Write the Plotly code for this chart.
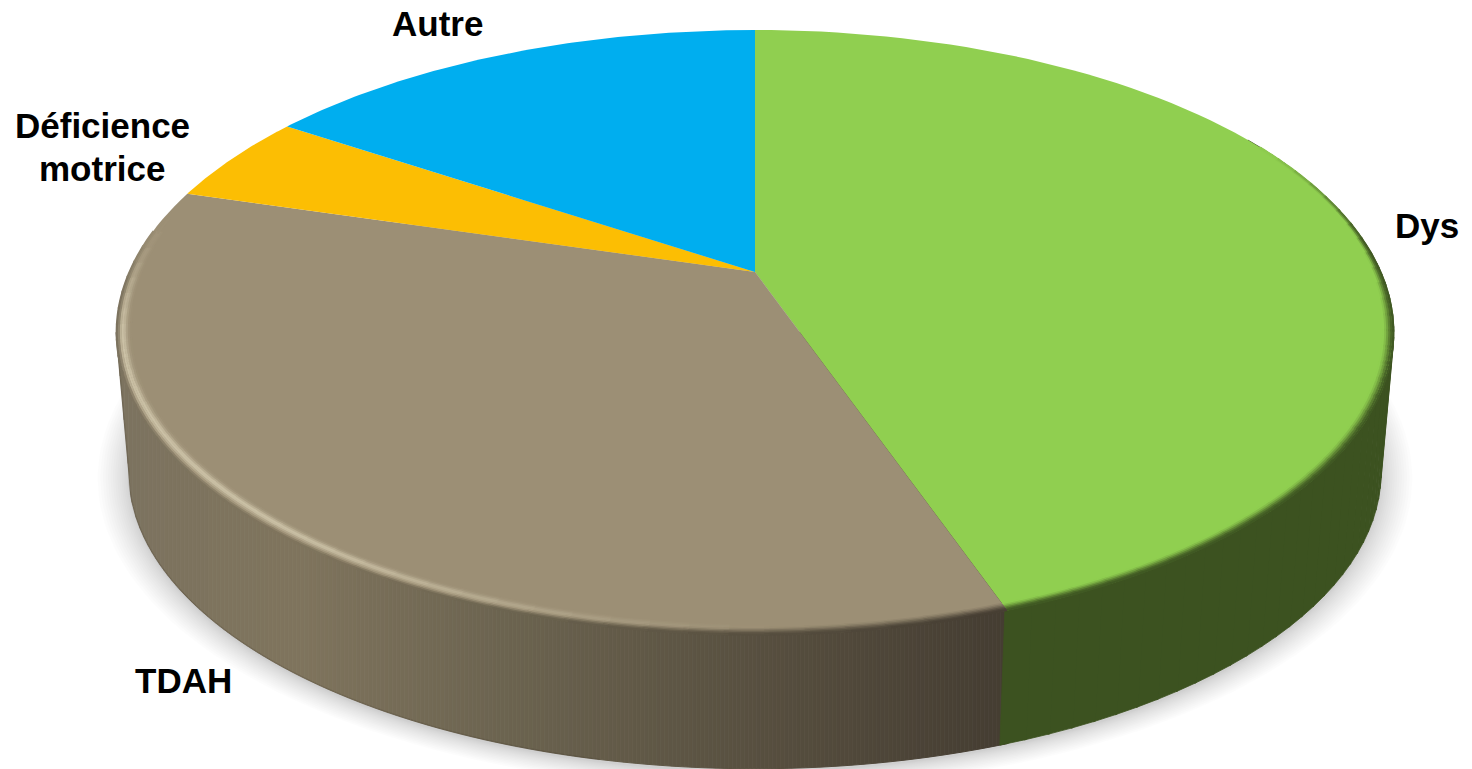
import numpy as np
import plotly.graph_objects as go

# ---- data ----
categories = ["Dys", "TDAH", "Déficience motrice", "Autre"]
values = [44.7, 34.9, 4.8, 15.6]
top_colors = ["#90cf50", "#9c8f75", "#fcbe03", "#00aeef"]
label_lines = [["Dys"], ["TDAH"], ["Déficience", "motrice"], ["Autre"]]
label_x = [1427, 183, 102, 437]
label_y = [225, 680, 125, 23]

# ---- drawing geometry (pixels of the page) ----
W, H = 1472, 769
CX, Y_TOP, Y_BOT = 755, 272, 413
A, B, K, S = 626.0, 290.4, 0.2, 0.98
WALL_GREEN = "#3c5220"
HILITE = "#cbc1a6"
x_stops = [120, 300, 500, 750, 1005]
wall_stops = [(0x7c, 0x73, 0x5f), (0x7f, 0x74, 0x5d), (0x6c, 0x64, 0x50), (0x58, 0x50, 0x40), (0x45, 0x3d, 0x32)]


def project(theta_deg, r=1.0, scale=1.0, y0=Y_TOP):
    t = np.radians(theta_deg)
    u, v = r * np.sin(t), r * np.cos(t)
    w = 1 + K * v
    return CX + scale * A * u / w, y0 - scale * B * v / w


def hex2rgb(h):
    return tuple(int(h[i:i + 2], 16) for i in (1, 3, 5))


def mix(a, b, t):
    return tuple(a[i] + (b[i] - a[i]) * t for i in range(3))


def css(c):
    return "rgb(%d,%d,%d)" % tuple(round(x) for x in c)


def sstep(a, b, x):
    t = np.clip((x - a) / (b - a), 0, 1)
    return t * t * (3 - 2 * t)


def wall_brown(x):
    return tuple(np.interp(x, x_stops, [s[i] for s in wall_stops]) for i in range(3))


fig = go.Figure()


def poly(xs, ys, color, line=0.0):
    fig.add_trace(go.Scatter(
        x=list(xs), y=list(ys), mode="lines", fill="toself", fillcolor=color,
        line=dict(color=color, width=line), hoverinfo="skip", showlegend=False))


def stroke(xs, ys, color, width):
    fig.add_trace(go.Scatter(
        x=list(xs), y=list(ys), mode="lines", line=dict(color=color, width=width, simplify=False),
        hoverinfo="skip", showlegend=False))


# cumulative slice angles, clockwise from twelve o'clock
total = sum(values)
edges = np.concatenate([[0], np.cumsum(values)]) * 360.0 / total
th_dys = (edges[0], edges[1])
th_tdah = (edges[1], edges[2])

# soft ground shadow
full = np.linspace(0, 360, 241)
for off in np.linspace(1.0, 0.0, 16):
    sc = S * (1.0 + 0.05 * off ** 1.3)
    xs, ys = project(full, scale=sc, y0=Y_BOT + 3)
    poly(xs, ys, "rgba(0,0,0,0.0105)")

# side wall: brown part, vertical bands shaded left to right
dense = np.linspace(th_tdah[0] - 8, 300, 1500)
xt, yt = project(dense)
xb, yb = project(dense, scale=S, y0=Y_BOT)
i_t, i_b = int(np.argmin(xt)), int(np.argmin(xb))
low_x = np.r_[xt[i_t], xb[i_b::-1]]
low_y = np.r_[yt[i_t], yb[i_b::-1]]
columns = np.arange(xt[i_t], project(th_tdah[0])[0] + 4, 4.0)
for x0, x1 in zip(columns[:-1], columns[1:]):
    xs = np.linspace(x0, x1, 4)
    ys = np.interp(xs, low_x, low_y)
    poly(np.r_[xs, x1, x0], np.r_[ys, yt[i_t], yt[i_t]], css(wall_brown((x0 + x1) / 2)), 1)

# side wall: dark green part, drawn as quads so the arcs may cross
grid = np.arange(60, th_dys[1] + 0.01, (th_dys[1] - 60) / 50)
for a0, a1 in zip(grid[:-1], grid[1:]):
    seg = np.array([a0, a1 + 0.2])
    x_t, y_t = project(seg)
    x_b, y_b = project(seg, scale=S, y0=Y_BOT)
    poly([x_t[0], x_t[1], x_b[1], x_b[0]], [y_t[0], y_t[1], y_b[1], y_b[0]], WALL_GREEN, 0.8)

# thin darker line along the wall's lower edge
keep = low_x < 600
stroke(low_x[keep], low_y[keep], "rgba(60,50,35,0.2)", 1.5)

# top face
for i, col in enumerate(top_colors):
    th = np.linspace(edges[i], edges[i + 1], 90)
    xs, ys = project(th)
    poly(np.r_[CX, xs], np.r_[Y_TOP, ys], col)

# bevel rim: concentric strokes near the edge
radii = np.arange(0.972, 0.9995, 0.003)
brown = hex2rgb(top_colors[1])
green = hex2rgb(top_colors[0])
hi = hex2rgb(HILITE)
step = 3.0

for r in radii:
    for a0 in np.arange(th_tdah[0], 290, step):
        a1 = min(a0 + step + 0.4, th_tdah[1])
        if a0 >= a1:
            continue
        mid = (a0 + a1) / 2
        v = np.cos(np.radians(mid))
        inten = sstep(282, 255, mid) * sstep(175, 225, mid)
        r0 = 0.985 + 0.005 * sstep(225, 262, mid)
        c = mix(brown, hi, inten * np.exp(-((r - r0) / 0.0062) ** 2))
        x_mid, _ = project(mid, r)
        dark = sstep(0.992 - 0.012 * sstep(215, 165, mid), 0.9995, r) * sstep(0.2, -0.1, v)
        c = mix(c, wall_brown(x_mid), dark)
        if np.linalg.norm(np.array(c) - np.array(brown)) < 1.5:
            continue
        xs, ys = project(np.linspace(a0, a1, 6), r)
        stroke(xs, ys, css(c), 2.2)

    for a0 in np.arange(50, th_dys[1], step):
        a1 = min(a0 + step + 0.4, th_dys[1])
        mid = (a0 + a1) / 2
        v = np.cos(np.radians(mid))
        dark = 0.95 * sstep(0.983 + 0.011 * sstep(-0.2, 0.3, v), 0.9995, r) * sstep(0.5, 0.05, v)
        if dark < 0.01:
            continue
        xs, ys = project(np.linspace(a0, a1, 6), r)
        stroke(xs, ys, css(mix(green, hex2rgb(WALL_GREEN), dark)), 2.2)

annotations = []
for lines, lx, ly in zip(label_lines, label_x, label_y):
    for k, text in enumerate(lines):
        annotations.append(dict(
            x=lx, y=ly + 43 * k, xref="x", yref="y", text=text, showarrow=False,
            xanchor="center", yanchor="middle",
            font=dict(family="Liberation Sans", size=35, color="#000000", weight=700)))

fig.update_layout(
    width=W, height=H, margin=dict(l=0, r=0, t=0, b=0),
    paper_bgcolor="#ffffff", plot_bgcolor="#ffffff", showlegend=False,
    xaxis=dict(range=[0, W], visible=False, fixedrange=True),
    yaxis=dict(range=[H, 0], visible=False, fixedrange=True),
    annotations=annotations,
)
fig.write_html("out.html", config=dict(displayModeBar=False),
               post_script="document.body.style.margin='0';document.documentElement.style.overflow='hidden';")
